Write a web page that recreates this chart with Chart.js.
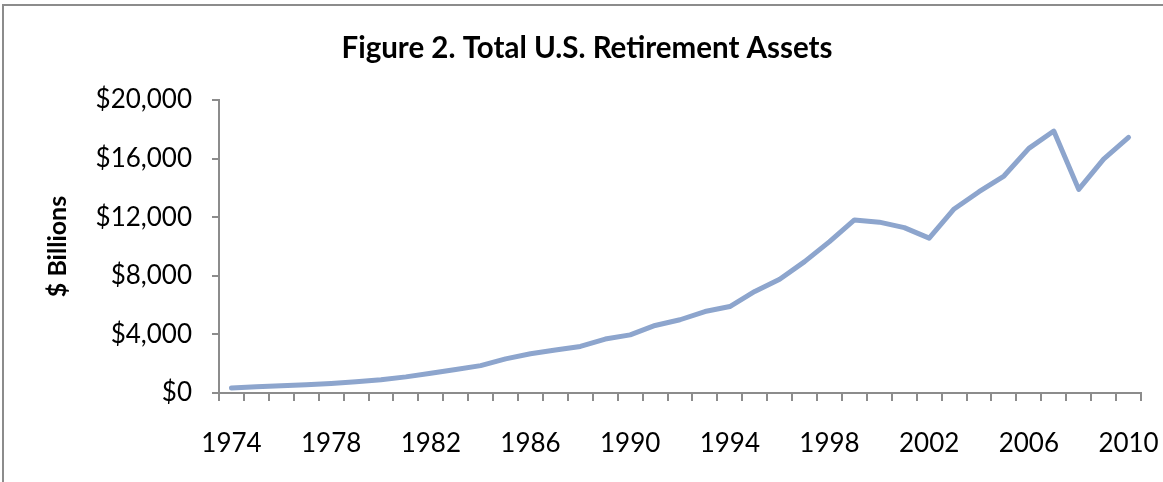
<!DOCTYPE html>
<html>
<head>
<meta charset="utf-8">
<script src="https://cdn.jsdelivr.net/npm/chart.js@4.4.1/dist/chart.umd.min.js"></script>
<style>
  html, body { margin: 0; padding: 0; background: #fff; overflow: hidden; }
  #frame { position: absolute; left: 2px; top: 4px; width: 1300px; height: 600px; border: 2px solid #8c8c8c; border-right: none; }
  #myChart { position: absolute; left: 0; top: 0; }
</style>
</head>
<body>
<div id="frame"></div>
<canvas id="myChart" width="1163" height="482"></canvas>
<script>
// years on the category axis
const years = [
    '1974', '1975', '1976', '1977', '1978', '1979', '1980', '1981', '1982', '1983',
    '1984', '1985', '1986', '1987', '1988', '1989', '1990', '1991', '1992', '1993',
    '1994', '1995', '1996', '1997', '1998', '1999', '2000', '2001', '2002', '2003',
    '2004', '2005', '2006', '2007', '2008', '2009', '2010'
];
// total retirement assets, $ billions
const assets = [
    340, 420, 490, 560, 650, 760, 900, 1100, 1350, 1600,
    1870, 2330, 2680, 2930, 3180, 3680, 3970, 4610, 5000, 5560,
    5900, 6930, 7770, 8970, 10330, 11810, 11660, 11290, 10570, 12560,
    13740, 14810, 16700, 17880, 13900, 15970, 17450
];
// only these years get a label under the axis
const shownYears = ['1974', '1978', '1982', '1986', '1990', '1994', '1998', '2002', '2006', '2010'];
const yTicks = [0, 4000, 8000, 12000, 16000, 20000];

const axisGray = '#8c8c8c';
const fontName = 'Lato';

const myChart = new Chart(
    document.getElementById('myChart'),
    {
        type: 'line',
        data: {
            labels: years,
            datasets: [
                {
                    label: 'Total U.S. Retirement Assets',
                    data: assets,
                    borderColor: '#8da5cd',
                    backgroundColor: '#8da5cd',
                    borderWidth: 5,
                    borderCapStyle: 'round',
                    borderJoinStyle: 'round',
                    pointRadius: 0,
                    tension: 0
                }
            ]
        },
        options: {
            responsive: false,
            animation: false,
            devicePixelRatio: 1,
            layout: {
                autoPadding: false,
                padding: { left: 11, right: 0, top: 0, bottom: 0 }
            },
            plugins: {
                legend: { display: false },
                tooltip: { enabled: false },
                title: {
                    display: true,
                    text: 'Figure 2. Total U.S. Retirement Assets',
                    color: '#000',
                    font: { family: fontName, size: 29.5, weight: 'bold', lineHeight: 1.2 },
                    padding: { top: 31, bottom: 33.6 }
                }
            },
            scales: {
                x: {
                    offset: true,
                    grid: {
                        offset: true,
                        drawOnChartArea: false,
                        drawTicks: true,
                        tickLength: 8,
                        color: axisGray,
                        lineWidth: 2
                    },
                    border: { color: axisGray, width: 2 },
                    ticks: {
                        autoSkip: false,
                        maxRotation: 0,
                        padding: 27,
                        color: '#000',
                        font: { family: fontName, size: 26 },
                        callback: function (value, index) {
                            const y = years[index];
                            return shownYears.includes(y) ? y : '';
                        }
                    },
                    afterFit: function (scale) {
                        scale.height = 89;
                        scale.paddingLeft = 0;
                        scale.paddingRight = 22;
                    }
                },
                y: {
                    min: 0,
                    max: 20000,
                    afterBuildTicks: function (scale) {
                        scale.ticks = yTicks.map(v => ({ value: v }));
                    },
                    grid: {
                        drawOnChartArea: false,
                        drawTicks: true,
                        tickLength: 7,
                        color: axisGray,
                        lineWidth: 2
                    },
                    border: { color: axisGray, width: 2 },
                    ticks: {
                        padding: 20,
                        color: '#000',
                        font: { family: fontName, size: 26 },
                        callback: function (value) {
                            return '$' + value.toLocaleString('en-US');
                        }
                    },
                    title: {
                        display: true,
                        text: '$ Billions',
                        color: '#000',
                        font: { family: fontName, size: 25, weight: 'bold', lineHeight: 1.2 },
                        padding: { top: 32, bottom: 0 }
                    },
                    afterFit: function (scale) {
                        scale.width = 208;
                        scale.paddingTop = 0;
                        scale.paddingBottom = 0;
                    }
                }
            }
        }
    }
);
</script>
</body>
</html>
